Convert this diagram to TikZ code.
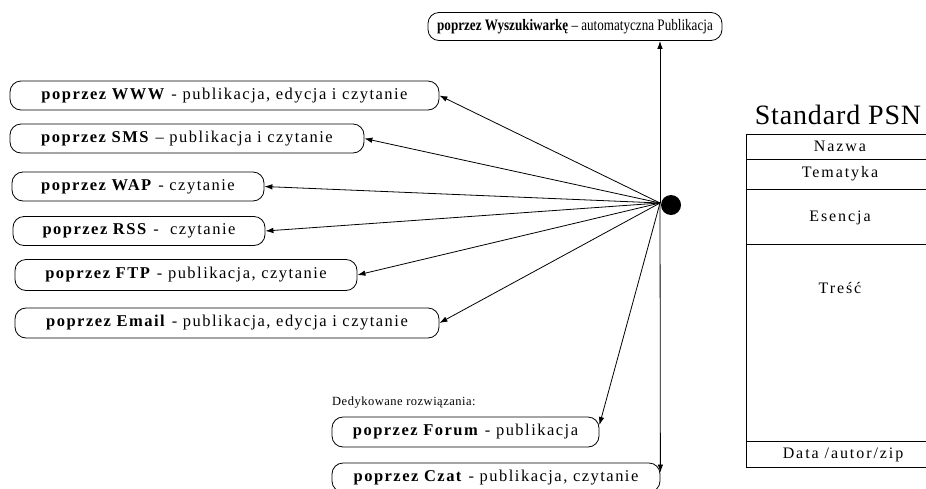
\documentclass[tikz,border=0pt]{standalone}
\usepackage{fontspec}
\setmainfont{Liberation Serif}
\newfontfamily\pillfont[LetterSpace=9]{Liberation Serif}
\newfontfamily\cellfont[LetterSpace=12]{Liberation Serif}
\newfontfamily\notefont[LetterSpace=4]{Liberation Serif}
\newfontfamily\titlefont[LetterSpace=3]{Liberation Serif}
\usetikzlibrary{arrows.meta}

\begin{document}
\begin{tikzpicture}[x=1pt,y=-1pt,
  pill/.style={draw, line width=0.8pt, rounded corners=11pt, minimum height=29pt,
    inner sep=0pt, font=\pillfont\fontsize{16.5}{19}\selectfont},
  link/.style={line width=0.8pt, -{Latex[length=8pt,width=5.5pt]}},
  cell/.style={inner sep=0pt, font=\cellfont\fontsize{16}{19}\selectfont},
  rule/.style={line width=0.8pt}]
\clip (0,0) rectangle (926,488);
\useasboundingbox (0,0) rectangle (926,488);

% channels
\node[pill, minimum width=294pt, minimum height=28pt,
      font=\fontsize{16}{19}\selectfont] (wysz) at (575,26.5)
  {\scalebox{0.82}[1]{\textbf{poprzez Wyszukiwarkę} – automatyczna Publikacja}};
\node[pill, minimum width=429pt] (www) at (224.5,95.5)
  {\textbf{poprzez WWW} - publikacja, edycja i czytanie};
\node[pill, minimum width=354pt] (sms) at (187,138.5)
  {\textbf{poprzez SMS} – publikacja i czytanie};
\node[pill, minimum width=252pt] (wap) at (138,186.5)
  {\textbf{poprzez WAP} - czytanie};
\node[pill, minimum width=252pt] (rss) at (139,231)
  {\textbf{poprzez RSS} -\ \ czytanie};
\node[pill, minimum width=342pt, minimum height=31pt] (ftp) at (186,275)
  {\textbf{poprzez FTP} - publikacja, czytanie};
\node[pill, minimum width=424pt, minimum height=30pt] (email) at (227,323)
  {\textbf{poprzez Email} - publikacja, edycja i czytanie};

\node[anchor=west, inner sep=0pt, font=\notefont\fontsize{12.5}{15}\selectfont]
  (dedyk) at (332,403) {Dedykowane rozwiązania:};
\node[pill, minimum width=267pt, minimum height=30pt] (forum) at (465.5,432)
  {\textbf{poprzez Forum} - publikacja};
\node[pill, minimum width=328pt] (czat) at (496,477.5)
  {\textbf{poprzez Czat} - publikacja, czytanie};

% hub
\coordinate (hub) at (660,203);
\node[circle, fill=black, minimum size=20pt, inner sep=0pt] (dot) at (671,205) {};

\draw[link] (hub) -- (hub |- wysz.south);
\draw[link] (hub) -- (www.east);
\draw[link] (hub) -- (sms.east);
\draw[link] (hub) -- (wap.east);
\draw[link] (hub) -- (rss.east);
\draw[link] (hub) -- (ftp.east);
\draw[link] (hub) -- (email.east);
\draw[link] (hub) -- ([yshift=7pt]forum.east);
\draw[link] (hub) -- ([yshift=5pt]czat.east);

% PSN record layout
\node[inner sep=0pt, font=\titlefont\fontsize{28}{32}\selectfont] (title) at (838,115) {Standard PSN};
\draw[rule] (746,134) rectangle (940,467);
\draw[rule] (746,159) -- (940,159);
\draw[rule] (746,189) -- (940,189);
\draw[rule] (746,244) -- (940,244);
\draw[rule] (746,441) -- (940,441);
\node[cell] (nazwa) at (840,146.5) {Nazwa};
\node[cell] (tematyka) at (840,174) {Tematyka};
\node[cell] (esencja) at (840,218) {Esencja};
\node[cell] (tresc) at (840,288) {Treść};
\node[cell] (data) at (843,454.5) {Data /autor/zip};
\end{tikzpicture}
\end{document}
